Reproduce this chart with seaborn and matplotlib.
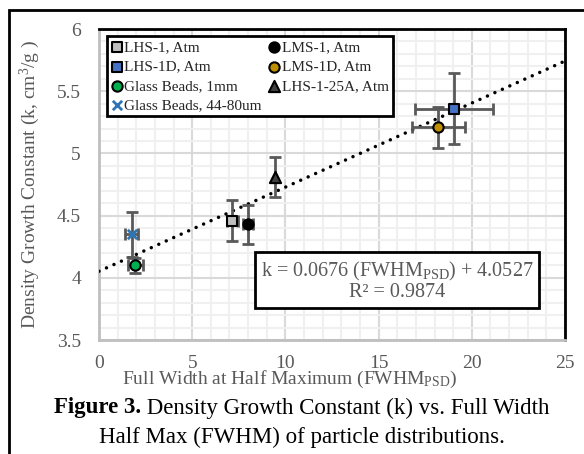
import numpy as np
import pandas as pd
import matplotlib
matplotlib.use("Agg")
import matplotlib.pyplot as plt
import seaborn as sns
from matplotlib.ticker import MultipleLocator, FuncFormatter
from matplotlib.patches import Rectangle

# data
samples = ["LHS-1, Atm", "LHS-1D, Atm", "Glass Beads, 1mm", "Glass Beads, 44-80um",
           "LMS-1, Atm", "LMS-1D, Atm", "LHS-1-25A, Atm"]
fwhm = [7.15, 19.05, 1.95, 1.75, 8.0, 18.2, 9.45]
k_vals = [4.46, 5.36, 4.10, 4.35, 4.43, 5.21, 4.81]
fwhm_err = [0.3, 2.1, 0.4, 0.35, 0.28, 1.43, 0.0]
k_err = [0.165, 0.285, 0.06, 0.18, 0.155, 0.165, 0.16]

# styles per sample
markers = ["s", "s", "o", "X", "o", "o", "^"]
fills = ["#bfbfbf", "#4472c4", "#00b050", "#2e75b6", "#000000", "#bf8f00", "#404040"]

# trendline from the figure
slope = 0.0676
intercept = 4.0527
r2 = 0.9874

df = pd.DataFrame({"sample": samples, "fwhm": fwhm, "k": k_vals,
                   "xerr": fwhm_err, "yerr": k_err})

sns.set_theme(style="white")
plt.rcParams["font.family"] = ["Liberation Serif", "DejaVu Serif"]
plt.rcParams["mathtext.fontset"] = "custom"
plt.rcParams["mathtext.rm"] = "Liberation Serif"
plt.rcParams["mathtext.it"] = "Liberation Serif:italic"
plt.rcParams["mathtext.bf"] = "Liberation Serif:bold"

fig = plt.figure(figsize=(5.84, 4.54), dpi=100)
ax = fig.add_axes([99 / 584, 1 - 340 / 454, 466 / 584, 311 / 454])

# trend line
xt = np.array([0, 25])
ax.plot(xt, slope * xt + intercept, color="black", lw=2.5,
        linestyle=(0, (0.01, 2.35)), dash_capstyle="round", zorder=3)

# error bars
for _, r in df.iterrows():
    ax.errorbar(r["fwhm"], r["k"], xerr=r["xerr"] if r["xerr"] > 0 else None,
                yerr=r["yerr"], fmt="none", ecolor="#595959", elinewidth=2,
                capsize=4.5, capthick=2, zorder=4)

# markers
for i, r in df.iterrows():
    if markers[i] == "X":
        sns.scatterplot(x=[r["fwhm"]], y=[r["k"]], ax=ax, marker="x", s=45,
                        color=fills[i], linewidth=2, label=r["sample"], zorder=5)
    else:
        sns.scatterplot(x=[r["fwhm"]], y=[r["k"]], ax=ax, marker=markers[i],
                        s=55 if markers[i] != "^" else 65, color=fills[i],
                        edgecolor="black", linewidth=1.5, label=r["sample"], zorder=5)

ax.set_xlim(0, 25)
ax.set_ylim(3.5, 6)
ax.xaxis.set_major_locator(MultipleLocator(5))
ax.xaxis.set_minor_locator(MultipleLocator(1))
ax.yaxis.set_major_locator(MultipleLocator(0.5))
ax.yaxis.set_minor_locator(MultipleLocator(0.1))
ax.yaxis.set_major_formatter(FuncFormatter(lambda v, p: f"{v:g}"))
ax.grid(which="major", color="#d9d9d9", lw=1.5)
ax.grid(which="minor", color="#f0f0f0", lw=1.5)
ax.set_axisbelow(True)
ax.tick_params(which="both", length=0, labelsize=14, labelcolor="#595959")
ax.tick_params(axis="x", pad=11)
ax.tick_params(axis="y", pad=13)

for side in ["left", "bottom"]:
    ax.spines[side].set_color("#bfbfbf")
    ax.spines[side].set_linewidth(2)
for side in ["top", "right"]:
    ax.spines[side].set_color("black")
    ax.spines[side].set_linewidth(2)

ax.set_xlabel(r"Full Width at Half Maximum (FWHM$_{\mathrm{PSD}}$)",
              fontsize=14, color="#595959")
ax.xaxis.label.set_va("center")
ax.xaxis.set_label_coords(0.408, -0.127)
ax.set_ylabel(r"Density Growth Constant (k, cm$^{3}$/g )",
              fontsize=14, color="#595959")
ax.yaxis.label.set_va("center")
ax.yaxis.set_label_coords(-0.148, 0.5)

leg = ax.legend(loc="upper left", bbox_to_anchor=(0.017, 0.976), ncol=2,
                fontsize=11, frameon=True, fancybox=False, borderpad=0.28,
                handlelength=0.7, handletextpad=0.15, columnspacing=0.45,
                labelspacing=0.36, borderaxespad=0)
leg.get_frame().set_edgecolor("black")
leg.get_frame().set_linewidth(2)
leg.get_frame().set_alpha(1)

# equation box
ax.text(0.6395, 0.191,
        "k = 0.0676 (FWHM$_{\\mathrm{PSD}}$) + 4.0527\nR\u00b2 = " + f"{r2:.4f}",
        transform=ax.transAxes, ha="center", va="center", fontsize=14.5,
        color="#595959", linespacing=1.0, zorder=6,
        bbox=dict(boxstyle="square,pad=0.3", fc="white", ec="black", lw=2))

# caption, bold lead-in followed by plain text, centred as one line
fig.canvas.draw()
renderer = fig.canvas.get_renderer()
cap_size = 16.5
t_bold = fig.text(0, 1 - 408 / 454, "Figure 3.", fontsize=cap_size,
                  fontweight="bold", ha="left", va="center", color="black")
t_rest = fig.text(0, 1 - 408 / 454, " Density Growth Constant (k) vs. Full Width",
                  fontsize=cap_size, ha="left", va="center", color="black")
w_bold = t_bold.get_window_extent(renderer).width
w_rest = t_rest.get_window_extent(renderer).width
x0 = 302 - (w_bold + w_rest) / 2
t_bold.set_x(x0 / 584)
t_rest.set_x((x0 + w_bold) / 584)
fig.text(302 / 584, 1 - 437 / 454,
         "Half Max (FWHM) of particle distributions.",
         ha="center", va="center", fontsize=cap_size, color="black")

# figure frame
fig.patches.append(Rectangle((9 / 584, -0.05), 1.1, 1 - 10 / 454 + 0.05,
                             transform=fig.transFigure, fill=False,
                             ec="black", lw=2))

fig.savefig("out.png", dpi=100)
